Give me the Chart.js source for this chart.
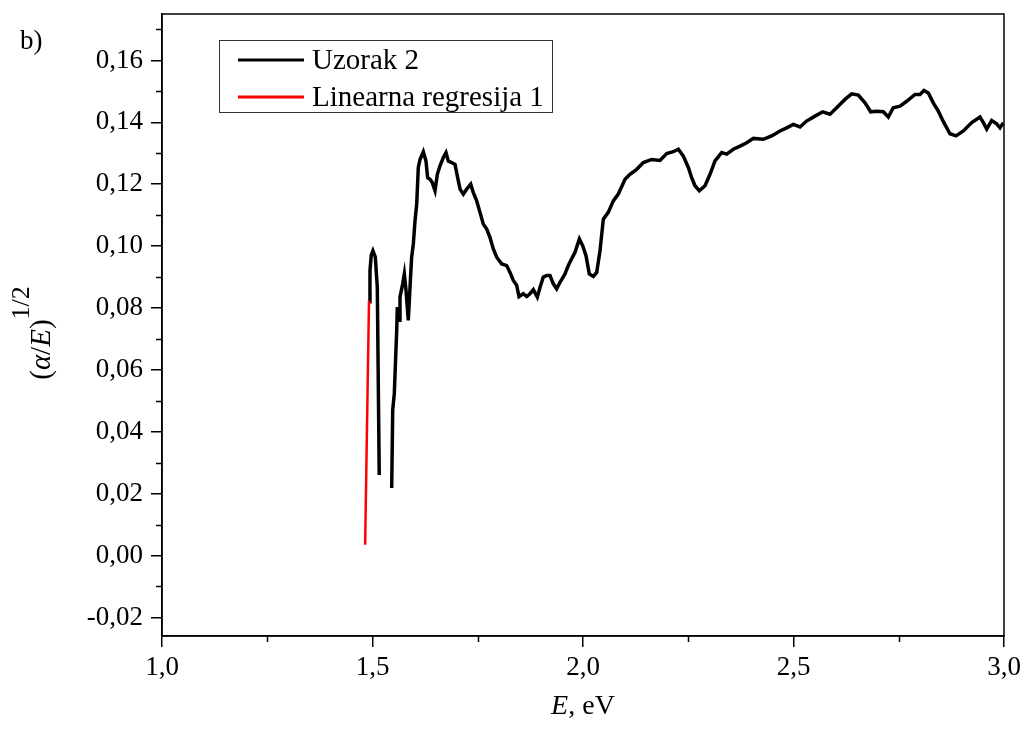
<!DOCTYPE html>
<html>
<head>
<meta charset="utf-8">
<script src="https://cdn.jsdelivr.net/npm/chart.js@4"></script>
<style>
  body { margin: 0; background: #fff; }
  canvas { display: block; }
</style>
</head>
<body>
<canvas id="grafico" width="1028" height="737"></canvas>
<script>
// Uzorak 2 (null = prekid u podacima)
const uzorakE = [1.4917, 1.494, 1.497, 1.501, 1.5067, 1.5114, 1.516, 1.53,
  1.5456, 1.548, 1.5518, 1.5575, 1.559, 1.5637, 1.5653, 1.5717, 1.5756, 1.5796, 1.585, 1.5891,
  1.593, 1.597, 1.601, 1.605, 1.6088, 1.6128, 1.6207, 1.627, 1.631, 1.6366, 1.642, 1.6485,
  1.654, 1.6603, 1.6682, 1.6746, 1.68, 1.688, 1.696, 1.704, 1.708, 1.7157, 1.7238, 1.7333,
  1.7395, 1.7475, 1.7553, 1.7632, 1.7713, 1.779, 1.787, 1.795, 1.8069, 1.8188, 1.8266,
  1.8345, 1.8425, 1.848, 1.8582, 1.8662, 1.874, 1.882, 1.8915, 1.898, 1.9057, 1.9137,
  1.9216, 1.9295, 1.9375, 1.9454, 1.9572, 1.9651, 1.9731, 1.981, 1.9913, 1.9992, 2.0071,
  2.015, 2.0245, 2.0325, 2.0404, 2.0483, 2.06, 2.072, 2.0838, 2.0998, 2.1116, 2.1275,
  2.1433, 2.1631, 2.1829, 2.1987, 2.2145, 2.2264, 2.2383, 2.2502, 2.2581, 2.266, 2.2763,
  2.2898, 2.3017, 2.3135, 2.3294, 2.3413, 2.357, 2.373, 2.3889, 2.4046, 2.4284, 2.4482,
  2.468, 2.4838, 2.4996, 2.5154, 2.531, 2.551, 2.5694, 2.5867, 2.6025, 2.6223, 2.6382,
  2.654, 2.6698, 2.6833, 2.6975, 2.7134, 2.7252, 2.737, 2.753, 2.7688, 2.7886, 2.8005,
  2.81, 2.8203, 2.832, 2.844, 2.856, 2.8717, 2.886, 2.9034, 2.9233, 2.943, 2.951, 2.959,
  2.9707, 2.9826, 2.9905, 2.9984];
const uzorakY = [0.082, 0.092, 0.097, 0.0985, 0.0964, 0.0867, 0.026, null,
  0.0218, 0.047, 0.0524, 0.0728, 0.0803, 0.076, 0.0835, 0.0878, 0.091, 0.0857, 0.076, 0.0867,
  0.0964, 0.1007, 0.1082, 0.1136, 0.1254, 0.128, 0.1305, 0.1275, 0.1221, 0.1216, 0.1205, 0.1179,
  0.1232, 0.1259, 0.1286, 0.1302, 0.1275, 0.127, 0.1264, 0.121, 0.1184, 0.1168, 0.1184, 0.120,
  0.1173, 0.1146, 0.1109, 0.1071, 0.1055, 0.1028, 0.0991, 0.0964, 0.0942, 0.0937, 0.0915,
  0.0889, 0.0873, 0.0837, 0.0846, 0.0837, 0.0846, 0.0859, 0.0835, 0.0867, 0.090, 0.0905,
  0.0905, 0.0878, 0.0862, 0.0883, 0.091, 0.0937, 0.0959, 0.098, 0.1023, 0.1001, 0.0969,
  0.091, 0.0902, 0.0915, 0.0985, 0.1087, 0.1109, 0.1146, 0.1168, 0.1216, 0.1232, 0.1248,
  0.127, 0.128, 0.1277, 0.1299, 0.1305, 0.1313, 0.1291, 0.1254, 0.1221, 0.1195, 0.1179,
  0.1195, 0.1232, 0.1275, 0.1302, 0.1297, 0.1313, 0.1323, 0.1334, 0.1348, 0.1345, 0.1356,
  0.1372, 0.1382, 0.1393, 0.1385, 0.1404, 0.142, 0.1434, 0.1426, 0.1447, 0.1474, 0.1492,
  0.1488, 0.1463, 0.1434, 0.1436, 0.1434, 0.1417, 0.1447, 0.1452, 0.1468, 0.149, 0.149,
  0.1503, 0.1495, 0.1463, 0.1436, 0.1402, 0.1363, 0.1356, 0.1372, 0.1399, 0.1417, 0.1399, 0.1378,
  0.1406, 0.1395, 0.1382, 0.1399];

// Linearna regresija 1
const regE = [1.4825, 1.4917];
const regY = [0.0035, 0.0824];

const xTicks = [1.0, 1.5, 2.0, 2.5, 3.0];
const xMinorTicks = [1.25, 1.75, 2.25, 2.75];
const yTicks = [-0.02, 0.00, 0.02, 0.04, 0.06, 0.08, 0.10, 0.12, 0.14, 0.16];
const yMinorTicks = [-0.01, 0.01, 0.03, 0.05, 0.07, 0.09, 0.11, 0.13, 0.15, 0.17];

const FONT = "'Liberation Serif', 'Times New Roman', serif";

// Male crtice, okvir, legenda i naslovi osa
const ukrasi = {
  id: 'ukrasi',
  afterDraw(chart) {
    const ctx = chart.ctx;
    const a = chart.chartArea;
    const sx = chart.scales.x, sy = chart.scales.y;
    ctx.save();
    ctx.strokeStyle = '#000';
    ctx.lineWidth = 1.5;
    ctx.strokeRect(a.left, a.top, a.right - a.left, a.bottom - a.top);

    ctx.beginPath();
    xMinorTicks.forEach(v => {
      const px = Math.round(sx.getPixelForValue(v)) + 0.5;
      ctx.moveTo(px, a.bottom); ctx.lineTo(px, a.bottom + 6);
    });
    yMinorTicks.forEach(v => {
      const py = Math.round(sy.getPixelForValue(v)) + 0.5;
      ctx.moveTo(a.left, py); ctx.lineTo(a.left - 6, py);
    });
    ctx.stroke();

    // legenda
    const lx = 219, ly = 40, lw = 333, lh = 72;
    ctx.lineWidth = 1;
    ctx.strokeStyle = '#333';
    ctx.strokeRect(lx + 0.5, ly + 0.5, lw, lh);
    ctx.font = '29px ' + FONT;
    ctx.textBaseline = 'middle';
    ctx.fillStyle = '#000';
    chart.data.datasets.forEach((ds, i) => {
      const yy = ly + 20 + i * 37;
      ctx.strokeStyle = ds.borderColor;
      ctx.lineWidth = 3;
      ctx.beginPath();
      ctx.moveTo(238, yy); ctx.lineTo(304, yy);
      ctx.stroke();
      ctx.fillText(ds.label, 312, yy + 1);
    });

    // b)
    ctx.font = '27px ' + FONT;
    ctx.textBaseline = 'alphabetic';
    ctx.fillText('b)', 20, 49);

    // naslov x ose: E, eV
    const cx = (a.left + a.right) / 2;
    ctx.font = 'italic 28px ' + FONT;
    const wE = ctx.measureText('E').width;
    ctx.font = '28px ' + FONT;
    const wR = ctx.measureText(', eV').width;
    let x0 = cx - (wE + wR) / 2;
    ctx.font = 'italic 28px ' + FONT;
    ctx.fillText('E', x0, 714);
    ctx.font = '28px ' + FONT;
    ctx.fillText(', eV', x0 + wE, 714);

    // naslov y ose: (α/E)^1/2
    ctx.translate(50, (a.top + a.bottom) / 2 + 8);
    ctx.rotate(-Math.PI / 2);
    const dijelovi = [
      { t: '(', f: '29px ' + FONT, dy: 0 },
      { t: 'α', f: 'italic 29px ' + FONT, dy: 0 },
      { t: '/', f: '29px ' + FONT, dy: 0 },
      { t: 'E', f: 'italic 29px ' + FONT, dy: 0 },
      { t: ')', f: '29px ' + FONT, dy: 0 },
      { t: '1/2', f: '26px ' + FONT, dy: -21 }
    ];
    let ukupno = 0;
    dijelovi.forEach(d => { ctx.font = d.f; d.w = ctx.measureText(d.t).width; ukupno += d.w; });
    let px = -ukupno / 2;
    dijelovi.forEach(d => {
      ctx.font = d.f;
      ctx.fillText(d.t, px, d.dy);
      px += d.w;
    });
    ctx.restore();
  }
};

function renderGrafico() {
  const ctx = document.getElementById('grafico').getContext('2d');
  new Chart(ctx, {
    type: 'line',
    data: {
      datasets: [
        {
          label: 'Uzorak 2',
          data: uzorakE.map((e, i) => ({ x: e, y: uzorakY[i] })),
          borderColor: '#000000',
          borderWidth: 3.5,
          pointRadius: 0,
          spanGaps: false,
          order: 1
        },
        {
          label: 'Linearna regresija 1',
          data: regE.map((e, i) => ({ x: e, y: regY[i] })),
          borderColor: '#ff0000',
          borderWidth: 2.5,
          pointRadius: 0,
          order: 0
        }
      ]
    },
    options: {
      responsive: false,
      animation: false,
      layout: { padding: { left: 0, right: 24, top: 14, bottom: 0 } },
      plugins: {
        legend: { display: false },
        tooltip: { enabled: false }
      },
      scales: {
        x: {
          type: 'linear',
          min: 1.0,
          max: 3.0,
          afterBuildTicks: s => { s.ticks = xTicks.map(v => ({ value: v })); },
          afterFit: s => { s.height = 101; },
          ticks: {
            color: '#000',
            font: { family: FONT, size: 27 },
            padding: 5,
            maxRotation: 0,
            callback: v => v.toFixed(1).replace('.', ',')
          },
          grid: { display: true, drawOnChartArea: false, drawTicks: true, tickLength: 11, color: '#000', lineWidth: 1.5 },
          border: { display: true, color: '#000', width: 1.5 }
        },
        y: {
          type: 'linear',
          min: -0.026,
          max: 0.175,
          afterBuildTicks: s => { s.ticks = yTicks.map(v => ({ value: v })); },
          afterFit: s => { s.width = 162; s.paddingTop = 0; s.paddingBottom = 0; },
          ticks: {
            color: '#000',
            font: { family: FONT, size: 27 },
            padding: 8,
            callback: v => v.toFixed(2).replace('.', ',')
          },
          grid: { display: true, drawOnChartArea: false, drawTicks: true, tickLength: 11, color: '#000', lineWidth: 1.5 },
          border: { display: true, color: '#000', width: 1.5 }
        }
      }
    },
    plugins: [ukrasi]
  });
}

document.addEventListener('DOMContentLoaded', () => {
  renderGrafico();
});
</script>
</body>
</html>
